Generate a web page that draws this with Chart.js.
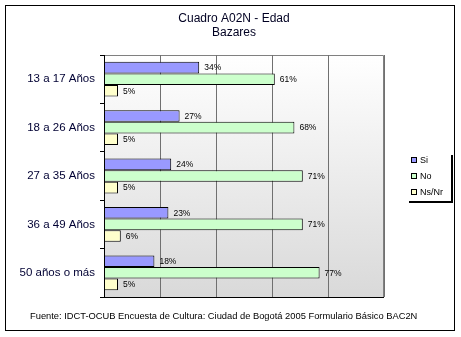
<!DOCTYPE html>
<html>
<head>
<meta charset="utf-8">
<script src="https://cdn.jsdelivr.net/npm/chart.js@4"></script>
<style>
  html, body { margin: 0; padding: 0; background: #ffffff; }
  #wrap { width: 461px; height: 337px; position: relative; }
</style>
</head>
<body>
<div id="wrap"><canvas id="c" width="461" height="337"></canvas></div>
<script>
// Age groups and response shares (%)
const categories = ['13 a 17 Años', '18 a 26 Años', '27 a 35 Años', '36 a 49 Años', '50 años o más'];
const seriesNames = ['Si', 'No', 'Ns/Nr'];
const siValues = [34, 27, 24, 23, 18];
const noValues = [61, 68, 71, 71, 77];
const nsnrValues = [5, 5, 5, 6, 5];
const xTicks = [0, 20, 40, 60, 80, 100];

const titleLines = ['Cuadro A02N - Edad', 'Bazares'];
const footerText = 'Fuente: IDCT-OCUB Encuesta de Cultura: Ciudad de Bogotá 2005 Formulario Básico BAC2N';

const fills = ['#9999ff', '#ccffcc', '#ffffcc'];

// Gradient plot background, frame, titles, value labels and the legend box
const decor = {
  id: 'decor',
  beforeDraw(chart) {
    const { ctx, chartArea: a } = chart;
    ctx.save();
    const g = ctx.createLinearGradient(0, a.top, 0, a.bottom);
    g.addColorStop(0, '#ffffff');
    g.addColorStop(1, '#d9d9d9');
    ctx.fillStyle = g;
    ctx.fillRect(a.left, a.top, a.right - a.left, a.bottom - a.top);
    // plot frame (top and right)
    ctx.strokeStyle = '#808080';
    ctx.lineWidth = 1;
    ctx.beginPath();
    ctx.moveTo(a.left, a.top + 0.5);
    ctx.lineTo(a.right - 0.5, a.top + 0.5);
    ctx.lineTo(a.right - 0.5, a.bottom);
    ctx.stroke();
    ctx.restore();
  },
  afterDraw(chart) {
    const { ctx, chartArea: a } = chart;
    ctx.save();
    // outer frame
    ctx.strokeStyle = '#000000';
    ctx.lineWidth = 1;
    ctx.strokeRect(5.5, 5.5, 449, 325);

    // title
    ctx.fillStyle = '#000022';
    ctx.font = '12px "Liberation Sans", Arial, sans-serif';
    ctx.textAlign = 'center';
    ctx.textBaseline = 'middle';
    ctx.fillText(titleLines[0], 234, 19);
    ctx.fillText(titleLines[1], 234, 33);

    // value labels
    ctx.font = '8.5px "Liberation Sans", Arial, sans-serif';
    ctx.fillStyle = '#000000';
    ctx.textAlign = 'left';
    chart.data.datasets.forEach((ds, i) => {
      chart.getDatasetMeta(i).data.forEach((bar, j) => {
        ctx.fillText(ds.data[j] + '%', bar.x + 5, bar.y + 0.5);
      });
    });

    // footer
    ctx.font = '8px "Liberation Sans", Arial, sans-serif';
    const w = ctx.measureText(footerText).width;
    ctx.font = (8 * 388 / w).toFixed(2) + 'px "Liberation Sans", Arial, sans-serif';
    ctx.fillText(footerText, 30, 316);

    // legend
    const lx = 411, ly = [160, 176, 192];
    ctx.font = '9px "Liberation Sans", Arial, sans-serif';
    chart.data.datasets.forEach((ds, i) => {
      ctx.fillStyle = ds.backgroundColor;
      ctx.fillRect(lx, ly[i] - 3, 6, 6);
      ctx.strokeStyle = '#000000';
      ctx.lineWidth = 1;
      ctx.strokeRect(lx + 0.5, ly[i] - 2.5, 5, 5);
      ctx.fillStyle = '#000000';
      ctx.fillText(ds.label, lx + 9, ly[i] + 0.5);
    });
    ctx.lineWidth = 2;
    ctx.beginPath();
    ctx.moveTo(452, 155);
    ctx.lineTo(452, 202);
    ctx.lineTo(409, 202);
    ctx.stroke();
    ctx.restore();
  }
};

new Chart(document.getElementById('c'), {
  type: 'bar',
  data: {
    labels: categories,
    datasets: [
      { label: seriesNames[0], data: siValues, backgroundColor: fills[0] },
      { label: seriesNames[1], data: noValues, backgroundColor: fills[1] },
      { label: seriesNames[2], data: nsnrValues, backgroundColor: fills[2] }
    ].map(d => Object.assign(d, {
      borderColor: '#000000',
      borderWidth: 1,
      borderSkipped: false,
      categoryPercentage: 0.72,
      barPercentage: 1.0
    }))
  },
  options: {
    indexAxis: 'y',
    responsive: false,
    animation: false,
    layout: { padding: { top: 55, bottom: 40, right: 77, left: 0 } },
    plugins: {
      legend: { display: false },
      title: { display: false },
      tooltip: { enabled: false }
    },
    scales: {
      x: {
        min: xTicks[0],
        max: xTicks[xTicks.length - 1],
        afterBuildTicks(s) { s.ticks = xTicks.map(v => ({ value: v })); },
        afterFit(s) { s.height = 0; },
        ticks: { display: false },
        grid: { color: '#707070', drawTicks: false, lineWidth: (c) => c.index === 0 ? 0 : 1 },
        border: { color: '#000000', width: 1 }
      },
      y: {
        afterFit(s) { s.width = 104; },
        ticks: {
          color: '#000033',
          font: { family: '"Liberation Sans", Arial, sans-serif', size: 11.5 },
          padding: 5
        },
        grid: { offset: true, drawOnChartArea: false, drawTicks: true, tickLength: 4, color: '#000000' },
        border: { color: '#000000', width: 1 }
      }
    }
  },
  plugins: [decor]
});
</script>
</body>
</html>
